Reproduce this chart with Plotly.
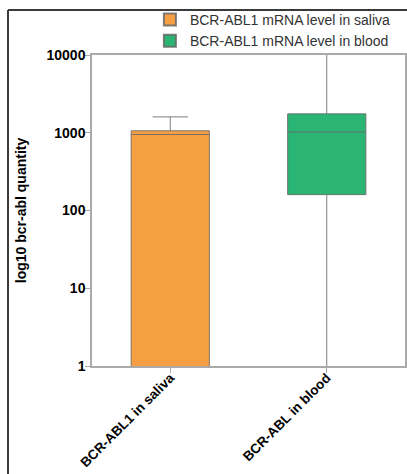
import plotly.graph_objects as go

# Summary statistics per sample type (log-scaled quantities)
categories = ["BCR-ABL1 in saliva", "BCR-ABL in blood"]
series_names = ["BCR-ABL1 mRNA level in saliva", "BCR-ABL1 mRNA level in blood"]
lower_fence = [0.5, 0.5]
q1 = [0.8, 160]
median = [950, 1020]
q3 = [1060, 1750]
upper_fence = [1600, 20000]
fill_colors = ["#f7a043", "#2bb574"]

y_tick_vals = [1, 10, 100, 1000, 10000]
y_tick_text = ["1", "10", "100", "1000", "10000"]

fig = go.Figure()
for i, cat in enumerate(categories):
    fig.add_trace(go.Box(
        name=series_names[i],
        x=[cat],
        q1=[q1[i]], median=[median[i]], q3=[q3[i]],
        lowerfence=[lower_fence[i]], upperfence=[upper_fence[i]],
        fillcolor=fill_colors[i],
        line=dict(color="rgba(105,105,105,0.85)", width=1),
        width=0.5,
        whiskerwidth=0.45,
        boxpoints=False,
    ))

L, R, T, B = 92, 2, 55, 108
W, H = 407, 474
pw, ph = W - L - R, H - T - B

# outer frame (left and top edges)
fx0 = (8 - L) / pw
fy1 = 1 + (T - 10) / ph
fy0 = -(H - T - ph) / ph - 0.01
fx1 = (W - L + 2) / pw
fig.add_shape(type="line", xref="paper", yref="paper", x0=fx0, x1=fx0, y0=fy0, y1=fy1,
              line=dict(color="#3a3a3a", width=2))
fig.add_shape(type="line", xref="paper", yref="paper", x0=fx0, x1=fx1, y0=fy1, y1=fy1,
              line=dict(color="#3a3a3a", width=2))

fig.update_layout(
    width=W, height=H,
    margin=dict(l=L, r=R, t=T, b=B, autoexpand=False),
    paper_bgcolor="white", plot_bgcolor="white",
    font=dict(family="Liberation Sans, Arial", size=14, color="black"),
    showlegend=True,
    legend=dict(x=0.185, y=1 + (T - 4) / ph, xanchor="left", yanchor="top",
                font=dict(size=14, color="#333333"), bgcolor="rgba(0,0,0,0)",
                tracegroupgap=0, itemsizing="constant"),
    xaxis=dict(
        type="category", categoryorder="array", categoryarray=categories,
        range=[-0.5, 1.5], automargin=False,
        showline=True, linecolor="#aaaaaa", linewidth=1.5, mirror=True,
        ticks="outside", ticklen=5, tickcolor="#aaaaaa",
        tickangle=-45, ticklabelstandoff=-8,
        tickfont=dict(size=13.5, color="black", weight="bold"),
        showgrid=False, zeroline=False,
    ),
    yaxis=dict(
        type="log", range=[0, 4], automargin=False,
        tickvals=y_tick_vals, ticktext=y_tick_text,
        showline=True, linecolor="#aaaaaa", linewidth=1.5, mirror=True,
        ticks="outside", ticklen=5, tickcolor="#aaaaaa", ticklabelstandoff=-3,
        tickfont=dict(size=14, color="black", weight="bold"),
        showgrid=False, zeroline=False,
        title=dict(text="log10 bcr-abl quantity", standoff=17,
                   font=dict(size=14, color="black", weight="bold")),
    ),
)

fig.write_html("out.html")
